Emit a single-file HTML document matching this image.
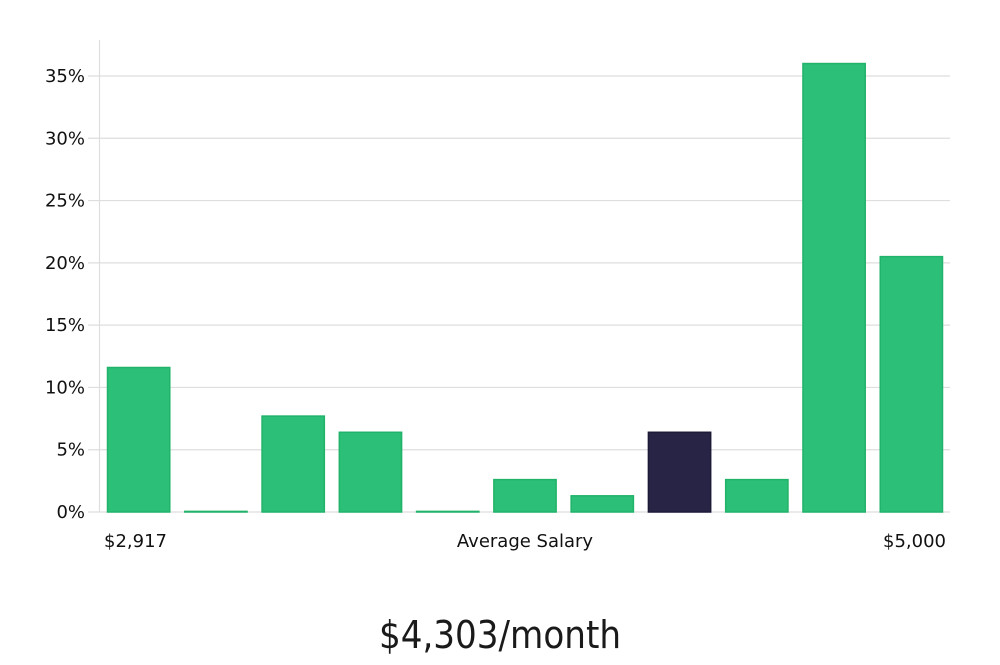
<!DOCTYPE html>
<html><head><meta charset="utf-8"><style>
body{margin:0;background:#fff;width:1000px;height:660px;overflow:hidden}
svg text{font-family:"DejaVu Sans","Liberation Sans",sans-serif;fill:#111}
</style></head><body>
<svg id="chart" width="1000" height="660"></svg>
<script>
const categories=["b1","b2","b3","b4","b5","b6","b7","b8","b9","b10","b11"];
const values=[11.6,0.05,7.7,6.4,0.05,2.6,1.3,6.4,2.6,36.0,20.5];
const highlightIndex=7;
const yTicks=[0,5,10,15,20,25,30,35];
const yTickLabels=["0%","5%","10%","15%","20%","25%","30%","35%"];
const NS="http://www.w3.org/2000/svg";
const svg=document.getElementById('chart');
const x0=100,x1=950,yBase=512,pxPer=(512-76)/35;
const y=v=>yBase-v*pxPer;
const slot=(x1-x0)/categories.length;
function mk(t,a,p){const e=document.createElementNS(NS,t);for(const k in a)e.setAttribute(k,a[k]);(p||svg).appendChild(e);return e;}
yTicks.forEach((t,i)=>{
  const g=mk('line',{x1:88,x2:x1,y1:y(t),y2:y(t),stroke:'#dedede','stroke-width':1.2});
  
  
  const tx=mk('text',{x:85,y:y(t)+6,'text-anchor':'end','font-size':18});
  tx.textContent=yTickLabels[i];
  
  
});
const ax=mk('line',{x1:99.5,x2:99.5,y1:40,y2:yBase,stroke:'#dedede','stroke-width':1.2});


values.forEach((v,i)=>{
  const hi=i===highlightIndex;
  const r=mk('rect',{x:x0+i*slot+7.5,y:y(v),width:slot-15,height:Math.max(0.5,v*pxPer),fill:hi?'#272445':'#2bbf77',stroke:hi?'#1d1a38':'#22b36a','stroke-width':1.5});
  
  
});
function label(txt,x,yy,anchor,size,name){const t=mk('text',{x:x,y:yy,'text-anchor':anchor,'font-size':size});t.textContent=txt;

return t;}
label('$2,917',104,547,'start',18,'x-min-label');
label('Average Salary',525,547,'middle',18,'x-axis-title');
label('$5,000',946,547,'end',18,'x-max-label');
const title=label('$4,303/month',500,648,'middle',38,'average-salary-value');
title.setAttribute('style','font-family:"DejaVu Sans Condensed","Liberation Sans Narrow",sans-serif;font-weight:200;fill:#1a1a1a');
</script>
</body></html>
